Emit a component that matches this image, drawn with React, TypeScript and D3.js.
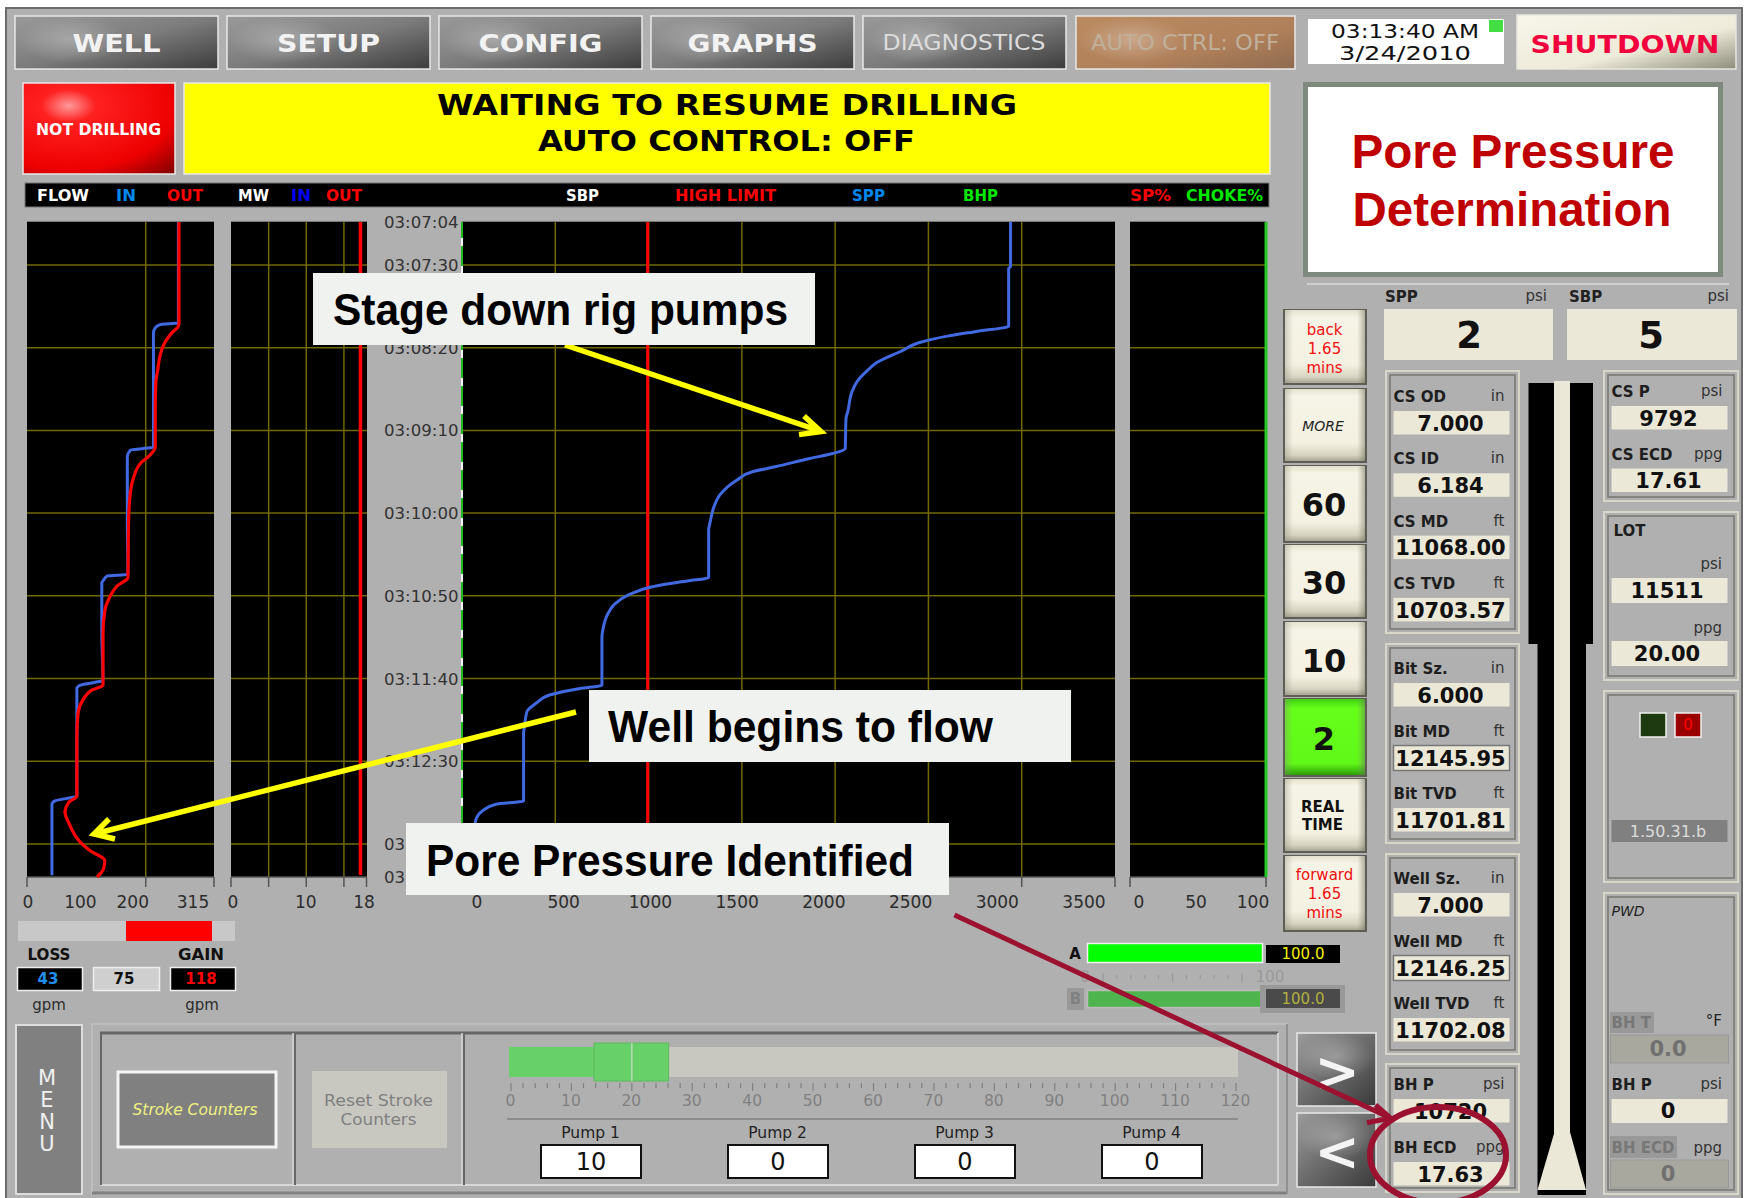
import * as d3 from 'd3';

// Time is seconds after 03:07:04
const flowInSeconds = [0, 61, 62, 64, 67, 136, 138, 142, 182, 213, 214, 217, 218, 249, 277, 280, 282, 347, 350, 352, 395];
const flowInGpm = [255, 255, 224, 216, 213, 213, 174, 169, 169, 170, 135, 128, 126, 126, 128, 90, 84, 84, 47, 42, 42];
const flowOutSeconds = [0, 61, 63, 67, 73, 81, 90, 97, 114, 136, 141, 146, 154, 164, 182, 215, 220, 227, 235, 249, 280, 283, 289, 297, 310, 347, 351, 357, 363, 375, 380, 386, 391, 396];
const flowOutGpm = [256, 256, 255, 244, 232, 224, 220, 217, 216, 216, 207, 191, 180, 174, 171, 170, 152, 139, 131, 128, 128, 109, 94, 86, 84, 84, 70, 64, 70, 90, 106, 131, 129, 118];
const sppSeconds = [0, 27, 28, 63, 66, 69, 73, 78, 85, 90, 96, 103, 114, 119, 137, 140, 143, 148, 151, 156, 165, 172, 182, 186, 215, 217, 221, 225, 231, 238, 246, 251, 280, 282, 286, 291, 296, 305, 309, 350, 352, 356, 360, 364, 396];
const sppPsi = [2940, 2940, 2930, 2930, 2766, 2602, 2448, 2356, 2223, 2171, 2120, 2089, 2069, 2058, 2054, 1987, 1864, 1679, 1556, 1474, 1382, 1351, 1329, 1322, 1322, 1206, 1002, 900, 818, 777, 756, 750, 750, 632, 469, 397, 348, 335, 330, 330, 182, 110, 79, 70, 70];

const gridSeconds = [26, 76, 126, 176, 226, 276, 326, 376];
const timeSeconds = [0, 26, 76, 126, 176, 226, 276, 326, 376, 396];
const timeLabels = ['03:07:04', '03:07:30', '03:08:20', '03:09:10', '03:10:00', '03:10:50', '03:11:40', '03:12:30', '03:13:00', '03:13:20'];

const flowGrid = [200];
const flowTicks = [0, 200, 315];
const flowLabels = [0, 100, 200, 315];
const mudGrid = [5, 10, 15];
const mudTicks = [0, 5, 10, 15, 18];
const mudLabels = [0, 10, 18];
const mudOutPpg = 17.2;
const pressureGrid = [500, 1000, 1500, 2000, 2500, 3000];
const pressureTicks = [0, 3000, 3500];
const pressureLabels = [0, 500, 1000, 1500, 2000, 2500, 3000, 3500];
const highLimitPsi = 995;
const percentLabels = [0, 50, 100];

const pumpScale = d3.range(0, 121, 10);
const pumpMinor = d3.range(0, 121, 2);
const pumpPosition = 20;
const pumps = ['Pump 1', 'Pump 2', 'Pump 3', 'Pump 4'];
const pumpValues = ['10', '0', '0', '0'];
const chokeTicks = d3.range(0, 101, 10);

const navButtons = ['WELL', 'SETUP', 'CONFIG', 'GRAPHS'];
const navTextWidths = [88, 103, 124, 130];

const casingRows = [['CS OD', 'in', '7.000'], ['CS ID', 'in', '6.184'], ['CS MD', 'ft', '11068.00'], ['CS TVD', 'ft', '10703.57']];
const bitRows = [['Bit Sz.', 'in', '6.000'], ['Bit MD', 'ft', '12145.95'], ['Bit TVD', 'ft', '11701.81']];
const wellRows = [['Well Sz.', 'in', '7.000'], ['Well MD', 'ft', '12146.25'], ['Well TVD', 'ft', '11702.08']];
const bottomRows = [['BH P', 'psi', '10720'], ['BH ECD', 'ppg', '17.63']];
const csRows = [['CS P', 'psi', '9792'], ['CS ECD', 'ppg', '17.61']];

const SANS = '"DejaVu Sans", sans-serif';
const ARIAL = '"Liberation Sans", Arial, sans-serif';
const GRID = '#706800';
const CREAM = '#ebe8d8';
const LABEL = '#2c2c2c';
const YELLOW = '#ffff00';
const MAROON = '#9c1030';

const plotTop = 222;
const plotBottom = 877;
const yTime = d3.scaleLinear().domain([0, 396]).range([plotTop, plotBottom]);
const xFlow = d3.scaleLinear().domain([0, 315]).range([27, 214]);
const xMud = d3.scaleLinear().domain([0, 18]).range([231, 366.5]);
const xPressure = d3.scaleLinear().domain([0, 3500]).range([462, 1115]);
const xPercent = d3.scaleLinear().domain([0, 100]).range([1130, 1266]);
// the tick labels sit on their own spacing in this display, not under the ticks
const xFlowLabel = d3.scaleLinear().domain([0, 315]).range([28, 193]);
const xMudLabel = d3.scaleLinear().domain([0, 18]).range([233, 364]);
const xPressureLabel = d3.scaleLinear().domain([0, 3500]).range([477, 1084]);
const xPercentLabel = d3.scaleLinear().domain([0, 100]).range([1139, 1253]);
const xPump = d3.scaleLinear().domain([0, 120]).range([511, 1236]);
const xChoke = d3.scaleLinear().domain([0, 100]).range([1103, 1242]);

function trace(values: number[], seconds: number[], x: d3.ScaleLinear<number, number>) {
  const line = d3.line<number>().x((v) => x(v)).y((_, i) => yTime(seconds[i])).curve(d3.curveMonotoneY);
  return line(values) || '';
}

function T({ x, y, s, size = 15, fill = LABEL, bold = false, italic = false, anchor = 'middle', w, family = SANS }: any) {
  return (
    <text
      x={x}
      y={y + 1}
      fontFamily={family}
      fontSize={size}
      fill={fill}
      fontWeight={bold ? 700 : 400}
      fontStyle={italic ? 'italic' : 'normal'}
      textAnchor={anchor}
      dominantBaseline="central"
      textLength={w}
      lengthAdjust={w ? 'spacingAndGlyphs' : undefined}
    >
      {s}
    </text>
  );
}

function GlossButton({ x, y, w, h, fill = 'url(#gloss)', spot = 'url(#spot)' }: any) {
  return (
    <g>
      <rect x={x} y={y} width={w} height={h} fill={fill} stroke="#e8e8e8" strokeWidth={1.5} />
      <rect x={x + 1} y={y + 1} width={Math.min(w - 2, 110)} height={Math.min(h - 2, 46)} fill={spot} />
    </g>
  );
}

function CreamButton({ y, h, fill = 'url(#cream)' }: any) {
  return (
    <g>
      <rect x={1283} y={y} width={84} height={h} fill="#5e5e54" />
      <rect x={1285} y={y + 1} width={80} height={h - 3} fill={fill} />
      <rect x={1285} y={y + 1} width={80} height={h - 3} fill="url(#creamSides)" />
    </g>
  );
}

function Panel({ x, y, w, h }: any) {
  return (
    <g fill="none">
      <rect x={x + 1} y={y + 1} width={w - 2} height={h - 2} stroke="#d8d6c8" strokeWidth={2} />
      <rect x={x + 5} y={y + 5} width={w - 10} height={h - 10} stroke="#77776f" strokeWidth={1.5} />
    </g>
  );
}

function Row({ x, w, labelY, boxY, boxH, row, framed = false, size = 21 }: any) {
  return (
    <g>
      <T x={x} y={labelY} s={row[0]} bold anchor="start" fill="#1e1e1e" />
      <T x={x + w - 5} y={labelY - 1} s={row[1]} anchor="end" fill="#333" />
      <rect x={x} y={boxY} width={w} height={boxH} fill={CREAM} stroke={framed ? '#777' : 'none'} strokeWidth={1.5} />
      <T x={x + w / 2 - 1} y={boxY + boxH / 2} s={row[2]} bold size={size} fill="#111" />
    </g>
  );
}

function Plot({ x0, x1, grid, ticks, labels, scale, labelScale }: any) {
  return (
    <g>
      <rect x={x0} y={plotTop} width={x1 - x0} height={plotBottom - plotTop} fill="#000" />
      <line x1={x0} x2={x1} y1={plotTop - 0.5} y2={plotTop - 0.5} stroke="#777" />
      {gridSeconds.map((t) => (
        <line key={t} x1={x0} x2={x1} y1={yTime(t)} y2={yTime(t)} stroke={GRID} strokeWidth={1.5} />
      ))}
      {grid.map((v: number) => (
        <line key={v} x1={scale(v)} x2={scale(v)} y1={plotTop} y2={plotBottom} stroke={GRID} strokeWidth={1.5} />
      ))}
      <line x1={x0} x2={x1} y1={plotBottom} y2={plotBottom} stroke="#555" strokeWidth={1.5} />
      {ticks.map((v: number) => (
        <line key={v} x1={scale(v)} x2={scale(v)} y1={plotBottom} y2={plotBottom + 10} stroke="#555" strokeWidth={1.5} />
      ))}
      {labels.map((v: number) => (
        <T key={v} x={labelScale(v)} y={901} s={String(v)} size={17} />
      ))}
    </g>
  );
}

function Callout({ x, y, w, h, s, textX, textW, dy = 0 }: any) {
  return (
    <g>
      <rect x={x} y={y} width={w} height={h} fill="#f0f2ef" />
      <T x={textX} y={y + h / 2 - 1 + dy} s={s} size={44} bold family={ARIAL} fill="#000" anchor="start" w={textW} />
    </g>
  );
}

export default function App() {
  const legend = [
    ['FLOW', 37, 52, '#fff'], ['IN', 116, 20, '#0088ee'], ['OUT', 167, 36, '#f00'],
    ['MW', 238, 31, '#fff'], ['IN', 291, 20, '#0000f0'], ['OUT', 326, 36, '#f00'],
    ['SBP', 566, 33, '#fff'], ['HIGH LIMIT', 675, 101, '#f00'], ['SPP', 852, 33, '#0088ee'],
    ['BHP', 963, 35, '#00e800'], ['SP%', 1130, 41, '#f00'], ['CHOKE%', 1186, 77, '#00e800'],
  ] as const;

  return (
    <svg width={1746} height={1198} viewBox="0 0 1746 1198" style={{ position: 'absolute', left: 0, top: 0, display: 'block' }}>
      <defs>
        <linearGradient id="gloss" x1="0" y1="0" x2="1" y2="1">
          <stop offset="0" stopColor="#9a9a9a" />
          <stop offset="0.5" stopColor="#7c7c7c" />
          <stop offset="1" stopColor="#3c3c3c" />
        </linearGradient>
        <linearGradient id="brown" x1="0" y1="0" x2="1" y2="1">
          <stop offset="0" stopColor="#bb8a60" />
          <stop offset="0.6" stopColor="#b0805a" />
          <stop offset="1" stopColor="#8e6a50" />
        </linearGradient>
        <radialGradient id="spot">
          <stop offset="0" stopColor="#fff" stopOpacity={0.28} />
          <stop offset="1" stopColor="#fff" stopOpacity={0} />
        </radialGradient>
        <radialGradient id="redBtn" cx="0.3" cy="0.25" r="1">
          <stop offset="0" stopColor="#ff9a9a" />
          <stop offset="0.18" stopColor="#ff2020" />
          <stop offset="0.7" stopColor="#ee0000" />
          <stop offset="1" stopColor="#880000" />
        </radialGradient>
        <linearGradient id="cream" x1="0" y1="0" x2="0" y2="1">
          <stop offset="0" stopColor="#e4e1cf" />
          <stop offset="0.1" stopColor="#f6f4e6" />
          <stop offset="0.75" stopColor="#f4f1e2" />
          <stop offset="0.92" stopColor="#d6d3c0" />
          <stop offset="1" stopColor="#a8a694" />
        </linearGradient>
        <linearGradient id="creamSides" x1="0" y1="0" x2="1" y2="0">
          <stop offset="0" stopColor="#8a887a" stopOpacity={0.35} />
          <stop offset="0.1" stopColor="#8a887a" stopOpacity={0} />
          <stop offset="0.9" stopColor="#8a887a" stopOpacity={0} />
          <stop offset="1" stopColor="#6a685a" stopOpacity={0.5} />
        </linearGradient>
        <linearGradient id="shut" x1="0" y1="0" x2="1" y2="1">
          <stop offset="0" stopColor="#f8f6ea" />
          <stop offset="0.6" stopColor="#eeebda" />
          <stop offset="1" stopColor="#8e8c7c" />
        </linearGradient>
        <linearGradient id="greenBtn" x1="0" y1="0" x2="0" y2="1">
          <stop offset="0" stopColor="#3ed010" />
          <stop offset="0.12" stopColor="#66ff1a" />
          <stop offset="0.85" stopColor="#60f818" />
          <stop offset="1" stopColor="#2c9c0c" />
        </linearGradient>
        <linearGradient id="dark" x1="0" y1="0" x2="1" y2="1">
          <stop offset="0" stopColor="#9c9c9c" />
          <stop offset="1" stopColor="#3a3a3a" />
        </linearGradient>
        <clipPath id="page">
          <rect x={0} y={0} width={1746} height={1198} />
        </clipPath>
      </defs>

      <rect width={1746} height={1198} fill="#fff" />
      <rect x={6} y={8} width={1736} height={1192} fill="#b0b0b0" stroke="#6c6c6c" strokeWidth={2} />

      {/* top navigation */}
      {navButtons.map((b, i) => (
        <g key={b}>
          <GlossButton x={15 + i * 212} y={16} w={203} h={53} />
          <T x={116.5 + i * 212} y={42} s={b} bold size={25} fill="#f2f2f2" w={navTextWidths[i]} />
        </g>
      ))}
      <GlossButton x={863} y={16} w={203} h={53} />
      <T x={964} y={42} s="DIAGNOSTICS" size={21} fill="#dcdcdc" w={163} />
      <GlossButton x={1076} y={16} w={219} h={53} fill="url(#brown)" />
      <T x={1185} y={42} s="AUTO CTRL: OFF" size={21} fill="#c0b09c" w={188} />
      <rect x={1308} y={19} width={196} height={45} fill="#fff" />
      <rect x={1489} y={20} width={14} height={12} fill="#44dd44" />
      <T x={1405} y={30} s="03:13:40 AM" size={20} fill="#111" w={148} />
      <T x={1405} y={52} s="3/24/2010" size={20} fill="#111" w={132} />
      <rect x={1517} y={15} width={219} height={54} fill="url(#shut)" stroke="#e8e8e0" strokeWidth={1.5} />
      <T x={1625} y={43} s="SHUTDOWN" bold size={25} fill="#f0003c" w={189} />

      {/* status banner */}
      <rect x={23} y={83} width={152} height={91} fill="url(#redBtn)" stroke="#e8e8e8" strokeWidth={1.5} />
      <T x={98.5} y={128} s="NOT DRILLING" bold size={16} fill="#fff" w={125} />
      <rect x={184} y={83} width={1086} height={91} fill={YELLOW} stroke="#e8e8e8" strokeWidth={1.5} />
      <T x={727} y={104} s="WAITING TO RESUME DRILLING" bold size={28} fill="#000" w={580} />
      <T x={726.5} y={140} s="AUTO CONTROL: OFF" bold size={28} fill="#000" w={377} />

      {/* trend legend */}
      <rect x={25} y={183} width={1244} height={24} fill="#000" stroke="#777" />
      {legend.map(([s, x, w, fill], i) => (
        <T key={i} x={x} y={194.5} s={s} bold size={15} fill={fill} anchor="start" w={w} />
      ))}

      {/* trend plots */}
      <Plot x0={27} x1={214} grid={flowGrid} ticks={flowTicks} labels={flowLabels} scale={xFlow} labelScale={xFlowLabel} />
      <Plot x0={231} x1={367} grid={mudGrid} ticks={mudTicks} labels={mudLabels} scale={xMud} labelScale={xMudLabel} />
      <Plot x0={462} x1={1115} grid={pressureGrid} ticks={pressureTicks} labels={pressureLabels} scale={xPressure} labelScale={xPressureLabel} />
      <Plot x0={1130} x1={1266} grid={[]} ticks={[0, 100]} labels={percentLabels} scale={xPercent} labelScale={xPercentLabel} />

      {timeSeconds.map((t, i) => (
        <T key={t} x={458.5} y={yTime(t) - 0.5} s={timeLabels[i]} size={16.6} anchor="end" fill="#333" />
      ))}
      <line x1={462} x2={462} y1={plotTop} y2={plotBottom} stroke="#22b822" strokeWidth={2} />
      <line x1={462} x2={462} y1={plotTop} y2={plotBottom} stroke="#f4f4f4" strokeWidth={2} strokeDasharray="8 20" strokeDashoffset={-16} />

      <line x1={xMud(mudOutPpg)} x2={xMud(mudOutPpg)} y1={plotTop} y2={plotBottom - 2} stroke="#f00" strokeWidth={3.5} />
      <line x1={xPressure(highLimitPsi)} x2={xPressure(highLimitPsi)} y1={plotTop} y2={plotBottom} stroke="#f00" strokeWidth={3} />
      <line x1={xPercent(100)} x2={xPercent(100)} y1={plotTop} y2={plotBottom} stroke="#22c822" strokeWidth={3} />

      <path d={trace(flowInGpm, flowInSeconds, xFlow)} fill="none" stroke="#4169e1" strokeWidth={3} />
      <path d={trace(flowOutGpm, flowOutSeconds, xFlow)} fill="none" stroke="#f00" strokeWidth={3.2} />
      <path d={trace(sppPsi, sppSeconds, xPressure)} fill="none" stroke="#4169e1" strokeWidth={3} />

      {/* loss / gain */}
      <rect x={18} y={921} width={217} height={20} fill="#c8c8c8" />
      <rect x={126} y={921} width={86} height={20} fill="#f00" />
      <T x={49} y={954} s="LOSS" bold w={43} fill="#111" />
      <T x={201} y={954} s="GAIN" bold w={46} fill="#111" />
      <rect x={17.5} y={967.5} width={65} height={23} fill="#000" stroke="#eee" strokeWidth={1.5} />
      <T x={48} y={978} s="43" bold fill="#2090f0" />
      <rect x={93.5} y={967.5} width={66} height={23} fill="#cfcfcf" stroke="#eee" strokeWidth={1.5} />
      <T x={124} y={978} s="75" bold fill="#111" />
      <rect x={170.5} y={967.5} width={65} height={23} fill="#000" stroke="#eee" strokeWidth={1.5} />
      <T x={201} y={978} s="118" bold fill="#f00" />
      <T x={49} y={1004} s="gpm" />
      <T x={202} y={1004} s="gpm" />

      {/* choke A / B */}
      <T x={1075} y={953} s="A" bold fill="#111" />
      <rect x={1087.5} y={943.5} width={175} height={19} fill="#00ff00" stroke="#f0f0f0" strokeWidth={1.5} />
      <rect x={1266} y={945} width={74} height={18} fill="#000" />
      <T x={1303} y={953} s="100.0" size={15} fill="#f0f000" />
      <T x={1085} y={976} s="0" fill="#9a9a9a" />
      {chokeTicks.map((v) => (
        <line key={v} x1={xChoke(v)} x2={xChoke(v)} y1={v % 50 === 0 ? 973 : 975} y2={v % 50 === 0 ? 982 : 979} stroke="#999" strokeWidth={1.2} />
      ))}
      <T x={1270} y={976} s="100" fill="#9a9a9a" />
      <rect x={1067} y={988} width={17} height={22} fill="#999" />
      <T x={1075.5} y={998} s="B" bold fill="#808080" />
      <rect x={1087.5} y={990.5} width={175} height={17} fill="#4eb44e" stroke="#bbb" strokeWidth={1.5} />
      <rect x={1260} y={985} width={85} height={28} fill="#999" />
      <rect x={1266} y={989} width={74} height={19} fill="#4a4a4a" />
      <T x={1303} y={998} s="100.0" fill="#b0b040" />

      {/* menu and stroke counter strip */}
      <rect x={16} y={1025} width={66} height={169} fill="#808080" stroke="#ddd" strokeWidth={2} />
      {['M', 'E', 'N', 'U'].map((c, i) => (
        <T key={c} x={47} y={1077 + i * 22} s={c} size={21} fill="#f0f0f0" />
      ))}
      <rect x={92} y={1024} width={1195} height={170} fill="#b0b0b0" stroke="#bdbdbd" strokeWidth={2} />
      <line x1={92} x2={1287} y1={1193} y2={1193} stroke="#808080" strokeWidth={3} />
      <line x1={1287} x2={1287} y1={1024} y2={1194} stroke="#909090" strokeWidth={2} />
      <line x1={100} x2={1278} y1={1033} y2={1033} stroke="#666" strokeWidth={3} />
      <line x1={100} x2={1278} y1={1185} y2={1185} stroke="#d8d8d8" strokeWidth={2} />
      {[101, 295, 464].map((x) => (
        <g key={x}>
          <line x1={x} x2={x} y1={1033} y2={1185} stroke="#666" strokeWidth={2} />
          {x > 101 && <line x1={x - 2} x2={x - 2} y1={1033} y2={1185} stroke="#d8d8d8" strokeWidth={1.5} />}
        </g>
      ))}
      <line x1={1278} x2={1278} y1={1033} y2={1185} stroke="#d0d0d0" strokeWidth={2} />
      <rect x={118} y={1072} width={158} height={75} fill="#808080" stroke="#f4f4f4" strokeWidth={3} />
      <T x={195} y={1109} s="Stroke Counters" italic fill="#f0f080" w={125} />
      <rect x={312} y={1071} width={135} height={77} fill="#c8c8c0" />
      <T x={378.5} y={1100} s="Reset Stroke" fill="#808080" w={109} />
      <T x={378.5} y={1119} s="Counters" fill="#808080" w={76} />

      {/* pump slider */}
      <rect x={509} y={1047} width={729} height={30} fill="#c8c8c0" />
      <rect x={509} y={1047} width={85} height={30} fill="#68d068" />
      <rect x={594} y={1043} width={(xPump(pumpPosition) - 594) * 2 - 1} height={38} fill="#68d068" stroke="#5cb85c" />
      <line x1={xPump(pumpPosition)} x2={xPump(pumpPosition)} y1={1043} y2={1081} stroke="#b8dcb8" strokeWidth={1.5} />
      {pumpMinor.map((v) => (
        <line key={v} x1={xPump(v)} x2={xPump(v)} y1={1083} y2={v % 10 === 0 ? 1091 : 1088} stroke="#808080" strokeWidth={1.2} />
      ))}
      {pumpScale.map((v) => (
        <T key={v} x={xPump(v) - 0.5} y={1100} s={String(v)} fill="#808080" size={15.5} />
      ))}
      <line x1={507} x2={1238} y1={1119} y2={1119} stroke="#808080" strokeWidth={1.5} />
      {pumps.map((p, i) => (
        <g key={p}>
          <T x={590.6 + i * 187} y={1132} s={p} size={15.5} fill="#222" />
          <rect x={541 + i * 187} y={1145} width={100} height={33} fill="#fff" stroke="#111" strokeWidth={2} />
          <T x={591 + i * 187} y={1161} s={pumpValues[i]} size={24} fill="#111" />
        </g>
      ))}

      {/* time window buttons */}
      <CreamButton y={309} h={76} />
      <T x={1324.5} y={329} s="back" fill="#f01010" />
      <T x={1324.5} y={348} s="1.65" fill="#f01010" />
      <T x={1324.5} y={367} s="mins" fill="#f01010" />
      <CreamButton y={388} h={75} />
      <T x={1323} y={425} s="MORE" italic size={14} fill="#222" />
      <CreamButton y={465} h={78} />
      <T x={1324} y={504} s="60" bold size={32} fill="#111" />
      <CreamButton y={544} h={75} />
      <T x={1324} y={582} s="30" bold size={32} fill="#111" />
      <CreamButton y={621} h={76} />
      <T x={1324} y={660} s="10" bold size={32} fill="#111" />
      <CreamButton y={698} h={79} fill="url(#greenBtn)" />
      <T x={1324} y={738} s="2" bold size={32} fill="#111" />
      <CreamButton y={778} h={75} />
      <T x={1322.5} y={806} s="REAL" bold fill="#111" />
      <T x={1322.5} y={824} s="TIME" bold fill="#111" />
      <CreamButton y={855} h={77} />
      <T x={1324.5} y={874} s="forward" fill="#f01010" />
      <T x={1324.5} y={893} s="1.65" fill="#f01010" />
      <T x={1324.5} y={912} s="mins" fill="#f01010" />
      <GlossButton x={1297} y={1033} w={79} h={73} fill="url(#dark)" />
      <T x={1337} y={1070} s=">" bold size={54} fill="#f4f4f4" />
      <GlossButton x={1297} y={1113} w={79} h={74} fill="url(#dark)" />
      <T x={1337} y={1150} s="<" bold size={54} fill="#f4f4f4" />

      {/* pore pressure title */}
      <line x1={1307} x2={1729} y1={284} y2={284} stroke="#cfcfcf" strokeWidth={2} />
      <rect x={1305.5} y={84.5} width={415} height={190} fill="#fff" stroke="#7e8a7e" strokeWidth={5} />
      <T x={1513} y={150} s="Pore Pressure" bold size={48} family={ARIAL} fill="#c00000" w={323} />
      <T x={1512} y={208} s="Determination" bold size={48} family={ARIAL} fill="#c00000" w={319} />

      {/* SPP / SBP readouts */}
      <T x={1385} y={296} s="SPP" bold fill="#222" anchor="start" />
      <T x={1547} y={295} s="psi" fill="#333" anchor="end" />
      <T x={1569} y={296} s="SBP" bold fill="#222" anchor="start" />
      <T x={1729} y={295} s="psi" fill="#333" anchor="end" />
      <rect x={1384} y={309} width={169} height={51} fill={CREAM} />
      <rect x={1567} y={309} width={170} height={51} fill={CREAM} />
      <T x={1469} y={334} s="2" bold size={37} fill="#111" />
      <T x={1651} y={334} s="5" bold size={37} fill="#111" />

      {/* well data columns */}
      <Panel x={1385} y={370} w={135} h={264} />
      {casingRows.map((r, i) => (
        <Row key={r[0]} x={1393.5} w={116} labelY={396 + i * 62.3} boxY={411 + i * 62.3} boxH={23.5} row={r} />
      ))}
      <Panel x={1385} y={643} w={135} h={201} />
      {bitRows.map((r, i) => (
        <Row key={r[0]} x={1393.5} w={116} labelY={668 + i * 62.5} boxY={683 + i * 62.5} boxH={i === 1 ? 25 : 23.5} row={r} framed={i === 1} />
      ))}
      <Panel x={1385} y={853} w={135} h={202} />
      {wellRows.map((r, i) => (
        <Row key={r[0]} x={1393.5} w={116} labelY={878 + i * 62.5} boxY={893 + i * 62.5} boxH={i === 1 ? 25 : 23.5} row={r} framed={i === 1} />
      ))}
      <Panel x={1385} y={1063} w={135} h={130} />
      {bottomRows.map((r, i) => (
        <Row key={r[0]} x={1393.5} w={116} labelY={1084 + i * 63} boxY={1099 + i * 63} boxH={23.5} row={r} />
      ))}

      {/* wellbore schematic */}
      <rect x={1528.5} y={383} width={64.5} height={261} fill="#000" />
      <rect x={1537.5} y={644} width={48.5} height={551} fill="#000" />
      <rect x={1554} y={381} width={16} height={752} fill={CREAM} />
      <path d="M1554.5,1132 L1570,1132 L1586,1190 L1537.5,1190 Z" fill={CREAM} />

      {/* right column */}
      <Panel x={1603} y={370} w={136} h={132} />
      {csRows.map((r, i) => (
        <Row key={r[0]} x={1611.5} w={116} labelY={391 + i * 63} boxY={406 + i * 62.5} boxH={23.5} row={r} />
      ))}
      <Panel x={1603} y={511} w={136} h={170} />
      <T x={1613.5} y={530} s="LOT" bold anchor="start" fill="#1e1e1e" />
      <T x={1722} y={563} s="psi" anchor="end" fill="#333" />
      <rect x={1611.5} y={578} width={116} height={25} fill={CREAM} />
      <T x={1667} y={590} s="11511" bold size={21} fill="#111" />
      <T x={1722} y={627} s="ppg" anchor="end" fill="#333" />
      <rect x={1611.5} y={641} width={116} height={25} fill={CREAM} />
      <T x={1667} y={653} s="20.00" bold size={21} fill="#111" />
      <Panel x={1603} y={690} w={136} h={193} />
      <rect x={1640} y={713} width={26} height={24} fill="#1e3a10" stroke="#f0f0f0" strokeWidth={1.5} />
      <rect x={1675} y={713} width={26} height={24} fill="#9a0000" stroke="#f0f0f0" strokeWidth={1.5} />
      <T x={1688} y={724} s="0" fill="#ff0000" />
      <rect x={1611.5} y={820} width={116} height={22} fill="#808080" />
      <T x={1668} y={830} s="1.50.31.b" fill="#dcdcdc" size={16} />
      <Panel x={1603} y={892} w={136} h={303} />
      <T x={1611.5} y={910} s="PWD" italic size={14} anchor="start" fill="#222" />
      <rect x={1610} y={1012} width={44} height={21} fill="#999" />
      <T x={1611.5} y={1022} s="BH T" bold anchor="start" fill="#777" />
      <T x={1722} y={1020} s="°F" anchor="end" fill="#222" />
      <rect x={1610.5} y={1035} width={118} height={28} fill="#a8a89e" stroke="#999" />
      <T x={1668} y={1048} s="0.0" bold size={21} fill="#707070" />
      <T x={1611.5} y={1084} s="BH P" bold anchor="start" fill="#1e1e1e" />
      <T x={1722} y={1083} s="psi" anchor="end" fill="#333" />
      <rect x={1611.5} y={1099} width={116} height={24} fill={CREAM} />
      <T x={1668} y={1110} s="0" bold size={21} fill="#111" />
      <rect x={1610} y={1136} width={67} height={22} fill="#999" />
      <T x={1611.5} y={1147} s="BH ECD" bold anchor="start" fill="#777" />
      <T x={1722} y={1147} s="ppg" anchor="end" fill="#333" />
      <rect x={1610.5} y={1160} width={118} height={28} fill="#a8a89e" stroke="#999" />
      <T x={1668} y={1173} s="0" bold size={21} fill="#707070" />

      {/* slide annotations */}
      <g fill="none" strokeLinecap="butt" strokeLinejoin="miter" clipPath="url(#page)">
        <path d="M565,345 L820,431 M804,416 L821,431.5 L799,434.6" stroke={YELLOW} strokeWidth={5.5} />
        <path d="M576,712 L94,834 M109,819 L94,834 L115,839" stroke={YELLOW} strokeWidth={5.5} />
      </g>
      <Callout x={313} y={273} w={502} h={72} s="Stage down rig pumps" textX={333} textW={455} />
      <Callout x={589} y={690} w={482} h={72} s="Well begins to flow" textX={608} textW={385} />
      <Callout x={406} y={823} w={543} h={72} s="Pore Pressure Identified" textX={426} textW={488} dy={1} />
      <g fill="none" clipPath="url(#page)" stroke={MAROON}>
        <path d="M954.5,915 L1390.5,1118 M1375.5,1105 L1390.5,1118 L1367,1122.7" strokeWidth={5} />
        <ellipse cx={1438} cy={1155} rx={68} ry={48} strokeWidth={6} />
      </g>
    </svg>
  );
}
